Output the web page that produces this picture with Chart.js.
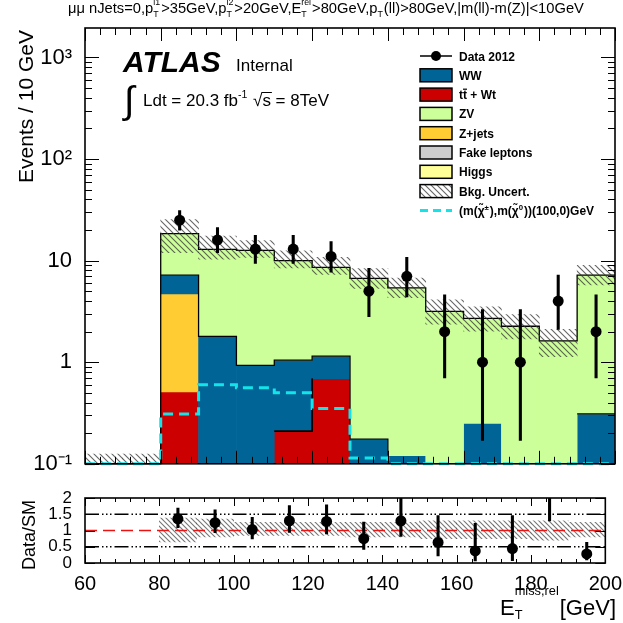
<!DOCTYPE html>
<html>
<head>
<meta charset="utf-8">
<script src="https://cdn.jsdelivr.net/npm/chart.js@4.4.0/dist/chart.umd.min.js"></script>
<style>
  body { margin: 0; background: #fff; }
  #wrap { position: relative; width: 623px; height: 623px; overflow: hidden; }
  canvas { position: absolute; left: 0; }
</style>
</head>
<body>
<div id="wrap">
  <canvas id="mainChart" width="623" height="482" style="top:0"></canvas>
  <canvas id="ratioChart" width="623" height="141" style="top:482px"></canvas>
</div>
<script>
// values, events per 10 GeV bin (low edge of each bin)
var binLow = [60, 70, 80, 90, 100, 110, 120, 130, 140, 150, 160, 170, 180, 190];
var ttbarWt = [0, 0, 0.51, 0, 0, 0.21, 0.69, 0, 0, 0, 0, 0, 0, 0];
var zJets = [0, 0, 4.2, 0, 0, 0, 0, 0, 0, 0, 0, 0, 0, 0];
var ww = [0, 0, 2.5, 1.8, 0.93, 0.84, 0.46, 0.175, 0.12, 0, 0.25, 0, 0, 0.31];
var zv = [0.1, 0.1, 11.2, 11.1, 11.7, 8.95, 7.45, 6.5, 5.28, 3.16, 2.45, 2.26, 1.62, 6.9];
var bkgUncUp = [0.25, 0.25, 0.38, 0.35, 0.25, 0.25, 0.25, 0.25, 0.25, 0.3, 0.3, 0.3, 0.3, 0.25];
var bkgUncDown = [0.25, 0.25, 0.35, 0.2, 0.15, 0.15, 0.15, 0.2, 0.2, 0.25, 0.25, 0.25, 0.3, 0.2];
var dataCounts = [null, null, 25, 16, 13, 13, 11, 5, 7, 2, 1, 1, 4, 2];
var dataErrUp = [null, null, 6.1, 5.1, 4.7, 4.7, 4.4, 3.4, 3.8, 2.6, 2.3, 2.3, 3.2, 2.6];
var dataErrDown = [null, null, 5.0, 4.0, 3.6, 3.6, 3.3, 2.2, 2.6, 1.3, 0.83, 0.83, 1.9, 1.3];
var signal = [0.1, 0.1, 0.31, 0.6, 0.56, 0.5, 0.35, 0.114, 0.1, 0.1, 0.1, 0.1, 0.1, 0.1];
var xTicks = [60, 80, 100, 120, 140, 160, 180, 200];
var yTicksLog = [0.1, 1, 10, 100, 1000];
var yTickLabelsLog = ['10\u207B\u00B9', '1', '10', '10\u00B2', '10\u00B3'];
var yTicksRatio = [0, 0.5, 1, 1.5, 2];
var legendLabels = ['Data 2012', 'WW', 'tt + Wt', 'ZV', 'Z+jets', 'Fake leptons', 'Higgs', 'Bkg. Uncert.'];

var FONT = '"Liberation Sans", Arial, Helvetica, sans-serif';
var COL_WW = '#006497', COL_TT = '#cc0000', COL_ZV = '#ccff99', COL_ZJ = '#ffcc33';
var COL_FAKE = '#cccccc', COL_HIGGS = '#ffff99', COL_SIG = '#11e5ea';

var centers = binLow.map(function (b) { return b + 5; });
var edges = binLow.concat([200]);
var cum1 = ttbarWt.slice();
var cum2 = cum1.map(function (v, i) { return v + zJets[i]; });
var cum3 = cum2.map(function (v, i) { return v + ww[i]; });
var total = cum3.map(function (v, i) { return v + zv[i]; });

function hatch(step, color, width) {
  var c = document.createElement('canvas');
  c.width = step; c.height = step;
  var g = c.getContext('2d');
  g.strokeStyle = color; g.lineWidth = width;
  g.beginPath();
  g.moveTo(-1, -1); g.lineTo(step + 1, step + 1);
  g.moveTo(-1, step - 1); g.lineTo(1, step + 1);
  g.moveTo(step - 1, -1); g.lineTo(step + 1, 1);
  g.stroke();
  return g.createPattern(c, 'repeat');
}
var hatchMain = hatch(6, 'rgba(50,50,50,0.75)', 1.1);
var hatchRatio = hatch(5, 'rgba(60,60,60,0.7)', 1.1);

function floatBars(values, below) {
  var pts = [];
  values.forEach(function (v, i) {
    if (v > 0) pts.push({ x: centers[i], y: [below[i] > 0 ? below[i] : 1e-4, below[i] + v] });
  });
  return pts;
}
function stepPoints(values) {
  return edges.map(function (e, i) { return { x: e, y: values[Math.min(i, values.length - 1)] }; });
}
function barSet(data, color, order) {
  return { type: 'bar', data: data, backgroundColor: color, borderWidth: 0, grouped: false, stack: 'h',
    categoryPercentage: 1, barPercentage: 1, order: order, clip: 0 };
}
function outline(values, order) {
  return { type: 'line', data: stepPoints(values), stepped: 'before', borderColor: '#000', borderWidth: 1.3,
    pointRadius: 0, fill: false, order: order, clip: { left: 0, top: 0, right: 0, bottom: 1 } };
}

// rich text with sub/superscripts
function rich(ctx, x, y, parts, size, weight, draw, o) {
  o = o || {};
  var sr = o.small || 0.62, up = o.up || 0.45, down = o.down || 0.22;
  var big = weight + ' ' + size + 'px ' + FONT;
  var small = weight + ' ' + (size * sr).toFixed(1) + 'px ' + FONT;
  parts.forEach(function (p) {
    if (typeof p === 'string') {
      ctx.font = big;
      if (draw) ctx.fillText(p, x, y);
      x += ctx.measureText(p).width;
    } else {
      ctx.font = small;
      var w = 0;
      if (p.sup) { if (draw) ctx.fillText(p.sup, x, y - size * up); w = ctx.measureText(p.sup).width; }
      if (p.sub) { if (draw) ctx.fillText(p.sub, x, y + size * down); w = Math.max(w, ctx.measureText(p.sub).width); }
      x += w + 1;
    }
  });
  return x;
}

var frameTicks = {
  id: 'frameTicks',
  afterDraw: function (chart, args, opts) {
    var ctx = chart.ctx, a = chart.chartArea, xs = chart.scales.x, ys = chart.scales.y;
    ctx.save();
    ctx.strokeStyle = '#000';
    ctx.lineWidth = 1;
    ctx.beginPath();
    function xt(list, len) {
      list.forEach(function (v) {
        var p = Math.round(xs.getPixelForValue(v)) + 0.5;
        ctx.moveTo(p, a.bottom); ctx.lineTo(p, a.bottom - len);
        ctx.moveTo(p, a.top); ctx.lineTo(p, a.top + len);
      });
    }
    function yt(list, len) {
      list.forEach(function (v) {
        var p = Math.round(ys.getPixelForValue(v)) + 0.5;
        ctx.moveTo(a.left, p); ctx.lineTo(a.left + len, p);
        ctx.moveTo(a.right, p); ctx.lineTo(a.right - len, p);
      });
    }
    xt(opts.xMajor, opts.xLen[0]); xt(opts.xMinor, opts.xLen[1]);
    yt(opts.yMajor, opts.yLen[0]); yt(opts.yMinor, opts.yLen[1]);
    ctx.stroke();
    ctx.lineWidth = 1.6;
    ctx.strokeRect(a.left, a.top, a.right - a.left, a.bottom - a.top);
    ctx.restore();
  }
};

var mainText = {
  id: 'mainText',
  afterDraw: function (chart) {
    var ctx = chart.ctx;
    ctx.save();
    ctx.fillStyle = '#000';
    ctx.textAlign = 'left';
    ctx.textBaseline = 'alphabetic';

    // selection header
    var head = ['\u03BC\u03BC nJets=0,p', { sub: 'T', sup: 'l1' }, '>35GeV,p', { sub: 'T', sup: 'l2' },
      '>20GeV,E', { sub: 'T', sup: 'rel' }, '>80GeV,p', { sub: 'T' }, '(ll)>80GeV,|m(ll)-m(Z)|<10GeV'];
    var ho = { small: 0.6, up: 0.55, down: 0.25 };
    var w12 = rich(ctx, 0, 0, head, 12, 'normal', false, ho);
    rich(ctx, 68, 13, head, 12 * 517 / w12, 'normal', true, ho);

    // ATLAS label
    ctx.font = 'italic bold 30px ' + FONT;
    ctx.fillText('ATLAS', 123, 72);
    ctx.font = '17px ' + FONT;
    ctx.fillText('Internal', 236, 71);
    ctx.font = '38px ' + FONT;
    ctx.fillText('\u222B', 124, 113);
    var x = rich(ctx, 143, 106, ['Ldt = 20.3 fb', { sup: '-1' }, ' '], 17, 'normal', true, { up: 0.5 });
    ctx.font = '17px ' + FONT;
    ctx.fillText('\u221A', x, 106);
    var xs = x + ctx.measureText('\u221A').width;
    var sw = ctx.measureText('s').width;
    ctx.fillText('s = 8TeV', xs, 106);
    ctx.fillRect(xs - 1, 92, sw + 2, 1);

    // legend
    var lx = 420, bw = 32, bh = 13, tx = 459;
    var fills = [null, COL_WW, COL_TT, COL_ZV, COL_ZJ, COL_FAKE, COL_HIGGS, hatchMain];
    legendLabels.forEach(function (lab, k) {
      var cy = 56 + k * 19.3;
      if (k === 0) {
        ctx.fillRect(lx, cy - 0.75, bw, 1.5);
        ctx.beginPath(); ctx.arc(lx + bw / 2, cy, 5, 0, Math.PI * 2); ctx.fill();
      } else {
        if (k === 7) { ctx.fillStyle = '#fff'; ctx.fillRect(lx, cy - bh / 2, bw, bh); }
        ctx.fillStyle = fills[k];
        ctx.fillRect(lx, cy - bh / 2, bw, bh);
        ctx.fillStyle = '#000';
        ctx.lineWidth = 1.5;
        ctx.strokeRect(lx, cy - bh / 2, bw, bh);
      }
      ctx.font = 'bold 12px ' + FONT;
      ctx.fillText(lab, tx, cy + 4.5);
      if (k === 2) {
        var t1 = ctx.measureText('t').width;
        ctx.fillRect(tx + t1, cy - 6, t1, 1.2);
      }
    });
    var sy = 56 + 8 * 19.3;
    ctx.save();
    ctx.strokeStyle = COL_SIG; ctx.lineWidth = 3; ctx.setLineDash([8, 5]);
    ctx.beginPath(); ctx.moveTo(lx, sy); ctx.lineTo(lx + bw, sy); ctx.stroke();
    ctx.restore();
    rich(ctx, tx, sy + 4.5, ['(m(\u03C7\u0303', { sup: '\u00B1' }, '),m(\u03C7\u0303', { sup: '0' }, '))(100,0)GeV'],
      12, 'bold', true, { up: 0.4, small: 0.65 });

    // y title
    ctx.translate(33, 30);
    ctx.rotate(-Math.PI / 2);
    ctx.textAlign = 'right';
    ctx.font = '21px ' + FONT;
    ctx.fillText('Events / 10 GeV', 0, 0);
    ctx.restore();
  }
};

var ratioText = {
  id: 'ratioText',
  afterDraw: function (chart) {
    var ctx = chart.ctx;
    ctx.save();
    ctx.fillStyle = '#000';
    ctx.textBaseline = 'alphabetic';
    var parts = ['E', { sub: 'T', sup: 'miss,rel' }, '[GeV]'];
    var o = { small: 0.58, up: 0.9, down: 0.18 };
    var w = rich(ctx, 0, 0, parts, 22, 'normal', false, o);
    rich(ctx, 616 - w, 133, parts, 22, 'normal', true, o);
    ctx.translate(35, 53);
    ctx.rotate(-Math.PI / 2);
    ctx.textAlign = 'center';
    ctx.font = '18px ' + FONT;
    ctx.fillText('Data/SM', 0, 0);
    ctx.restore();
  }
};

var xMinor = [];
for (var v = 60; v <= 200; v += 4) { if ((v - 60) % 20 !== 0) xMinor.push(v); }
var yMinorLog = [];
yTicksLog.forEach(function (d) { for (var m = 2; m <= 9; m++) { if (m * d < 1950) yMinorLog.push(m * d); } });

// ----- main panel -----
var hatchPts = [];
total.forEach(function (t, i) { hatchPts.push({ x: centers[i], y: [t * (1 - bkgUncDown[i]), t * (1 + bkgUncUp[i])] }); });
var dataPts = [], dataErr = [];
dataCounts.forEach(function (d, i) {
  if (d === null) return;
  dataPts.push({ x: centers[i], y: d });
  dataErr.push({ x: centers[i], y: [d - dataErrDown[i], d + dataErrUp[i]] });
});

new Chart(document.getElementById('mainChart'), {
  type: 'bar',
  data: {
    datasets: [
      { type: 'line', data: dataPts, showLine: false, pointRadius: 5.5, pointBackgroundColor: '#000', pointBorderWidth: 0, order: 0, clip: 0 },
      { type: 'bar', data: dataErr, backgroundColor: '#000', borderWidth: 0, barThickness: 2.4, grouped: false, stack: 'h', order: 1, clip: 0 },
      { type: 'line', data: stepPoints(signal), stepped: 'before', borderColor: COL_SIG, borderWidth: 3, borderDash: [10, 6],
        pointRadius: 0, fill: false, order: 2, clip: { left: 0, top: 0, right: 0, bottom: 3 } },
      barSet(hatchPts, hatchMain, 3),
      outline(total, 4), outline(cum3, 4), outline(cum2, 4), outline(cum1, 4),
      barSet(floatBars(zv, cum3), COL_ZV, 5),
      barSet(floatBars(ww, cum2), COL_WW, 6),
      barSet(floatBars(zJets, cum1), COL_ZJ, 7),
      barSet(floatBars(ttbarWt, [0, 0, 0, 0, 0, 0, 0, 0, 0, 0, 0, 0, 0, 0]), COL_TT, 8)
    ]
  },
  options: {
    responsive: false,
    animation: false,
    devicePixelRatio: 1,
    layout: { padding: { left: 0, right: 8, top: 28, bottom: 12 }, autoPadding: false },
    plugins: {
      legend: { display: false },
      tooltip: { enabled: false },
      frameTicks: { xMajor: xTicks, xMinor: xMinor, yMajor: yTicksLog, yMinor: yMinorLog, xLen: [13, 7], yLen: [14, 7] }
    },
    scales: {
      x: { type: 'linear', min: 60, max: 200, offset: false, display: false,
        ticks: { stepSize: 20 }, grid: { display: false } },
      y: { type: 'logarithmic', min: 0.1, max: 1950, stacked: false,
        afterBuildTicks: function (s) { s.ticks = yTicksLog.map(function (v) { return { value: v }; }); },
        afterFit: function (s) { s.width = 85; },
        grid: { display: false }, border: { display: false },
        ticks: { autoSkip: false, padding: 5, color: '#000', font: { family: FONT, size: 22 },
          callback: function (v) { return yTickLabelsLog[yTicksLog.indexOf(v)]; } } }
    }
  },
  plugins: [frameTicks, mainText]
});

// ----- ratio panel -----
var bandPts = [], ratioPts = [], ratioErr = [];
total.forEach(function (t, i) {
  if (dataCounts[i] === null) return;
  bandPts.push({ x: centers[i], y: [1 - bkgUncDown[i], 1 + bkgUncUp[i]] });
  ratioPts.push({ x: centers[i], y: dataCounts[i] / t });
  ratioErr.push({ x: centers[i], y: [(dataCounts[i] - dataErrDown[i]) / t, (dataCounts[i] + dataErrUp[i]) / t] });
});
function refLine(yv, color, dash, order) {
  return { type: 'line', data: [{ x: 60, y: yv }, { x: 200, y: yv }], borderColor: color, borderWidth: 1.5,
    borderDash: dash, pointRadius: 0, fill: false, order: order, clip: 0 };
}

new Chart(document.getElementById('ratioChart'), {
  type: 'bar',
  data: {
    datasets: [
      { type: 'line', data: ratioPts, showLine: false, pointRadius: 5.5, pointBackgroundColor: '#000', pointBorderWidth: 0, order: 0, clip: 0 },
      { type: 'bar', data: ratioErr, backgroundColor: '#000', borderWidth: 0, barThickness: 2.4, grouped: false, stack: 'h', order: 1, clip: 0 },
      refLine(1, '#ee1111', [12, 6], 2),
      refLine(0.5, '#000', [14, 3, 1.5, 2.5, 1.5, 2.5, 1.5, 3], 3),
      refLine(1.5, '#000', [14, 3, 1.5, 2.5, 1.5, 2.5, 1.5, 3], 3),
      barSet(bandPts, hatchRatio, 4)
    ]
  },
  options: {
    responsive: false,
    animation: false,
    devicePixelRatio: 1,
    layout: { padding: { left: 0, right: 8, top: 16, bottom: 0 }, autoPadding: false },
    plugins: {
      legend: { display: false },
      tooltip: { enabled: false },
      frameTicks: { xMajor: xTicks, xMinor: xMinor, yMajor: yTicksRatio, yMinor: [], xLen: [8, 4], yLen: [10, 5] }
    },
    scales: {
      x: { type: 'linear', min: 60, max: 200, offset: false,
        afterBuildTicks: function (s) { s.ticks = xTicks.map(function (v) { return { value: v }; }); },
        afterFit: function (s) { s.height = 60; },
        grid: { display: false }, border: { display: false },
        ticks: { autoSkip: false, maxRotation: 0, padding: 1, color: '#000', font: { family: FONT, size: 20 } } },
      y: { type: 'linear', min: 0, max: 2, stacked: false,
        afterBuildTicks: function (s) { s.ticks = yTicksRatio.map(function (v) { return { value: v }; }); },
        afterFit: function (s) { s.width = 85; },
        grid: { display: false }, border: { display: false },
        ticks: { autoSkip: false, padding: 5, color: '#000', font: { family: FONT, size: 17 },
          callback: function (v) { return String(v); } } }
    }
  },
  plugins: [frameTicks, ratioText]
});
</script>
</body>
</html>
